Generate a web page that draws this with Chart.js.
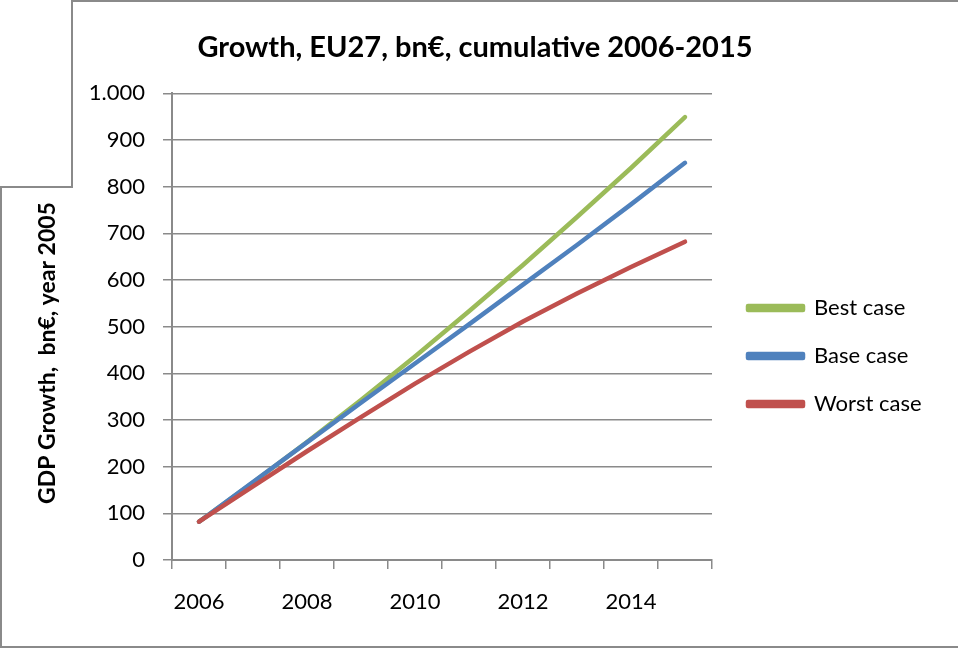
<!DOCTYPE html>
<html>
<head>
<meta charset="utf-8">
<script src="https://cdn.jsdelivr.net/npm/chart.js@4.4.0/dist/chart.umd.min.js"></script>
<style>
html,body{margin:0;padding:0;background:#fff;overflow:hidden}
#wrap{width:958px;height:649px;position:relative}
</style>
</head>
<body>
<div id="wrap"><canvas id="c" width="958" height="649"></canvas></div>
<script>
// ---- data ----
const years = ['2006','2007','2008','2009','2010','2011','2012','2013','2014','2015'];
const bestCase  = [82, 166, 253, 343, 436, 533, 632, 735, 840, 949];
const baseCase  = [82, 167, 252, 337, 421, 505, 590, 675, 762, 851];
const worstCase = [82, 158, 233, 306, 378, 446, 511, 571, 628, 682];
const seriesNames = ['Best case', 'Base case', 'Worst case'];
const yTickValues = [0, 100, 200, 300, 400, 500, 600, 700, 800, 900, 1000];
const chartTitle = 'Growth, EU27, bn€, cumulative 2006-2015';
const yAxisTitle = 'GDP Growth,  bn€, year 2005';

// ---- styles ----
const FONT = 'Lato';
const GRID = '#8a8a8a';
const colors = ['#9BBB59', '#4F81BD', '#C0504D'];

function fmt(v) {
  return String(v).replace(/\B(?=(\d{3})+(?!\d))/g, '.');
}

const framePlugin = {
  id: 'frame',
  beforeDraw(chart) {
    const ctx = chart.ctx;
    ctx.save();
    ctx.fillStyle = '#fff';
    ctx.fillRect(0, 0, chart.width, chart.height);
    ctx.strokeStyle = GRID;
    ctx.lineWidth = 2;
    ctx.beginPath();
    ctx.moveTo(958, 1);
    ctx.lineTo(72, 1);
    ctx.lineTo(72, 187);
    ctx.lineTo(1, 187);
    ctx.lineTo(1, 647);
    ctx.lineTo(958, 647);
    ctx.stroke();
    ctx.restore();
  },
  afterDraw(chart) {
    const ctx = chart.ctx;
    ctx.save();
    ctx.translate(48, 353);
    ctx.rotate(-Math.PI / 2);
    ctx.font = 'bold 23px ' + FONT;
    ctx.fillStyle = '#000';
    ctx.textAlign = 'center';
    ctx.textBaseline = 'middle';
    ctx.fillText(yAxisTitle, 0, 0);
    ctx.restore();
  }
};

const blockPlacer = {
  id: 'blockPlacer',
  afterLayout(chart) {
    const lg = chart.legend;
    if (lg) {
      const pad = lg.options.labels.padding;
      lg.left = 748 - pad;
      lg.right = 958;
      lg.width = lg.right - lg.left;
      lg.top = 297 - pad;
      lg.bottom = 640;
      lg.height = lg.bottom - lg.top;
    }
    const tb = chart.titleBlock;
    if (tb) {
      tb.left = 0;
      tb.right = 950;
      tb.width = 950;
    }
  }
};

new Chart(document.getElementById('c'), {
  type: 'line',
  data: {
    labels: years,
    datasets: [
      { label: seriesNames[0], data: bestCase,  borderColor: colors[0], backgroundColor: colors[0], order: 3 },
      { label: seriesNames[1], data: baseCase,  borderColor: colors[1], backgroundColor: colors[1], order: 2 },
      { label: seriesNames[2], data: worstCase, borderColor: colors[2], backgroundColor: colors[2], order: 1 }
    ]
  },
  options: {
    responsive: false,
    devicePixelRatio: 1,
    animation: false,
    layout: { padding: { left: 0, right: 66, top: 0, bottom: 0 } },
    elements: {
      line: { borderWidth: 4.5, tension: 0, borderCapStyle: 'round', borderJoinStyle: 'round', fill: false },
      point: { radius: 0, hoverRadius: 0 }
    },
    plugins: {
      tooltip: { enabled: false },
      title: {
        display: true,
        text: chartTitle,
        color: '#000',
        font: { family: FONT, size: 29, weight: 'bold' },
        padding: { top: 30, bottom: 28.5 }
      },
      legend: {
        position: 'right',
        align: 'start',
        maxWidth: 180,
        labels: {
          color: '#000',
          font: { family: FONT, size: 22 },
          boxWidth: 55,
          boxHeight: 4,
          padding: 26,
          sort: (a, b) => a.datasetIndex - b.datasetIndex
        }
      }
    },
    scales: {
      x: {
        type: 'category',
        offset: true,
        grid: { display: true, drawOnChartArea: false, drawTicks: true, offset: true, tickLength: 9, color: GRID, lineWidth: 1.5 },
        border: { display: true, color: GRID, width: 2 },
        ticks: {
          autoSkip: false, maxRotation: 0, minRotation: 0,
          color: '#000', font: { family: FONT, size: 22 }, padding: 20,
          callback: (v, i) => (i % 2 === 0 ? years[i] : '')
        },
        afterFit: (s) => { s.height = 89; }
      },
      y: {
        min: 0, max: 1000,
        afterBuildTicks: (s) => { s.ticks = yTickValues.map(v => ({ value: v })); },
        grid: { color: GRID, lineWidth: 1.5, tickLength: 9, drawTicks: true },
        border: { display: true, color: GRID, width: 2 },
        ticks: { color: '#000', font: { family: FONT, size: 22 }, padding: 18, callback: (v) => fmt(v) },
        afterFit: (s) => { s.width = 172; }
      }
    }
  },
  plugins: [framePlugin, blockPlacer]
});
</script>
</body>
</html>
